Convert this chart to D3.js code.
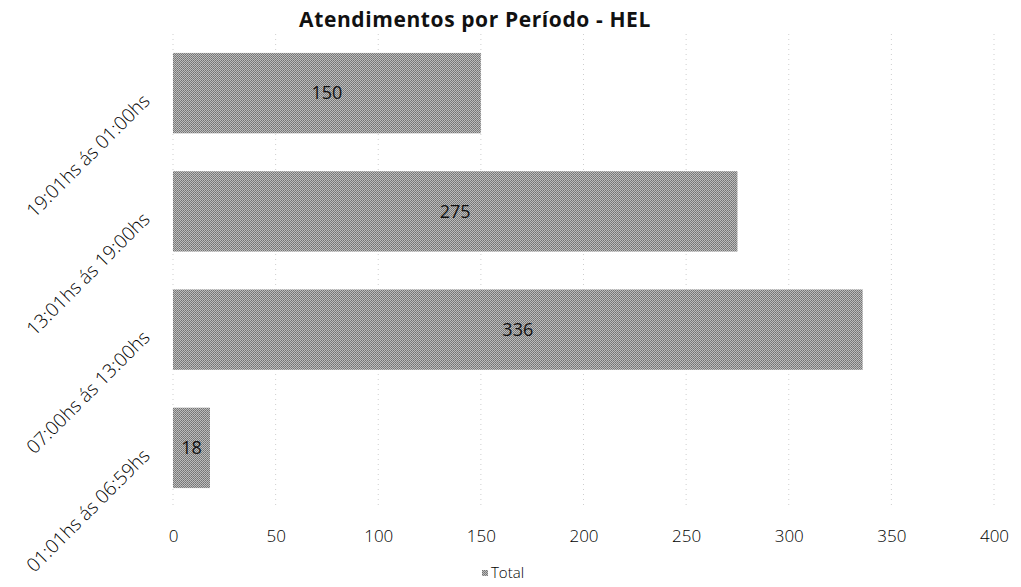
<!DOCTYPE html>
<html>
<head>
<meta charset="utf-8">
<script src="https://cdn.jsdelivr.net/npm/d3@7"></script>
<style>
  body { margin: 0; background: #fff; }
  text { font-family: "Open Sans", Lato, sans-serif; }
</style>
</head>
<body>
<div id="chart"></div>
<script>
// Chart data, bottom to top as in the reference
const periods = ["01:01hs ás 06:59hs", "07:00hs ás 13:00hs", "13:01hs ás 19:00hs", "19:01hs ás 01:00hs"];
const totals = [18, 336, 275, 150];
const xTicks = [0, 50, 100, 150, 200, 250, 300, 350, 400];
const seriesName = "Total";

const width = 1021, height = 587;
const margin = { top: 34, right: 27, bottom: 80, left: 173 };
const innerW = width - margin.left - margin.right;
const innerH = height - margin.top - margin.bottom;

const svg = d3.select("#chart")
  .append("svg")
  .attr("width", width)
  .attr("height", height);

// halftone-like fill for the bars
const defs = svg.append("defs");
const pat = defs.append("pattern")
  .attr("id", "dots")
  .attr("width", 2).attr("height", 2)
  .attr("patternUnits", "userSpaceOnUse");
pat.append("rect").attr("width", 2).attr("height", 2).attr("fill", "#bcbcbc");
pat.append("rect").attr("width", 1).attr("height", 1).attr("fill", "#737373");
pat.append("rect").attr("x", 1).attr("y", 1).attr("width", 1).attr("height", 1).attr("fill", "#808080");

svg.append("text")
  .attr("x", 475).attr("y", 27)
  .attr("text-anchor", "middle")
  .style("font-size", "21px")
  .style("font-weight", "bold")
  .style("letter-spacing", "0.6px")
  .attr("fill", "#111")
  .text("Atendimentos por Período - HEL");

const g = svg.append("g")
  .attr("transform", "translate(" + margin.left + "," + margin.top + ")");

const xScale = d3.scaleLinear().domain([0, 400]).range([0, innerW]);
const yScale = d3.scaleBand()
  .domain(periods.slice().reverse())
  .range([0, innerH])
  .paddingInner(0.32)
  .paddingOuter(0.16);

// dotted vertical gridlines
g.selectAll(".grid")
  .data(xTicks)
  .enter()
  .append("line")
  .attr("x1", d => xScale(d)).attr("x2", d => xScale(d))
  .attr("y1", 0).attr("y2", innerH)
  .attr("stroke", "#cfcfcf")
  .attr("stroke-width", 1)
  .attr("stroke-dasharray", "1,4");

// x axis labels
const xAxis = g.append("g")
  .attr("transform", "translate(0," + innerH + ")")
  .call(d3.axisBottom(xScale).tickValues(xTicks).tickSize(0).tickPadding(23));
xAxis.select(".domain").remove();
xAxis.selectAll("text")
  .style("font-size", "17px")
  .style("font-weight", "300")
  .attr("fill", "#000");

// y axis labels, rotated
const yAxis = g.append("g")
  .call(d3.axisLeft(yScale).tickSize(0));
yAxis.select(".domain").remove();
yAxis.selectAll(".tick text")
  .style("font-size", "19px")
  .style("font-weight", "300")
  .attr("fill", "#000")
  .attr("x", 0).attr("y", 0).attr("dy", 0)
  .attr("transform", "translate(-22,9) rotate(-45)")
  .style("text-anchor", "end");

// bars
g.selectAll(".bar")
  .data(periods.map((p, i) => ({ p: p, v: totals[i] })))
  .enter()
  .append("rect")
  .attr("class", "bar")
  .attr("x", xScale(0))
  .attr("y", d => yScale(d.p))
  .attr("width", d => xScale(d.v) - xScale(0))
  .attr("height", yScale.bandwidth())
  .attr("fill", "url(#dots)");

// value labels
g.selectAll(".val")
  .data(periods.map((p, i) => ({ p: p, v: totals[i] })))
  .enter()
  .append("text")
  .attr("x", d => xScale(d.v / 2))
  .attr("y", d => yScale(d.p) + yScale.bandwidth() / 2)
  .attr("dy", "0.35em")
  .attr("text-anchor", "middle")
  .style("font-size", "18px")
  .attr("fill", "#111")
  .text(d => d.v);

// legend
const leg = svg.append("g").attr("transform", "translate(482,578)");
leg.append("rect")
  .attr("x", 0).attr("y", -8).attr("width", 6).attr("height", 6)
  .attr("fill", "url(#dots)");
leg.append("text")
  .attr("x", 9).attr("y", 0)
  .style("font-size", "15px")
  .style("font-weight", "300")
  .attr("fill", "#000")
  .text(seriesName);
</script>
</body>
</html>
